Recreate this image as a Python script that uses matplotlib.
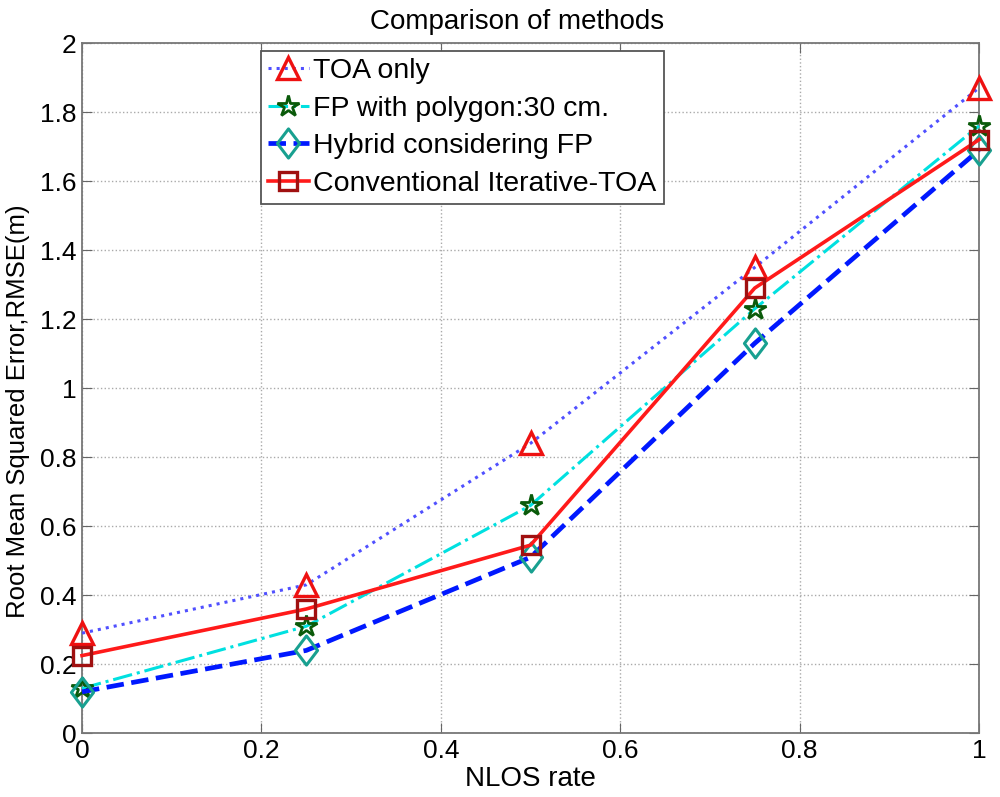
import numpy as np
import matplotlib.pyplot as plt
from matplotlib.path import Path

plt.rcParams['font.family'] = ['Liberation Sans', 'DejaVu Sans']

# data
nlos = [0, 0.25, 0.5, 0.75, 1]
toa_only = [0.29, 0.43, 0.84, 1.35, 1.87]
fp_polygon = [0.13, 0.31, 0.66, 1.23, 1.76]
hybrid_fp = [0.12, 0.24, 0.51, 1.13, 1.69]
conv_iter = [0.225, 0.36, 0.545, 1.29, 1.72]

labels = ['TOA only', 'FP with polygon:30 cm.', 'Hybrid considering FP',
          'Conventional Iterative-TOA']

# matlab style diamond (a bit wider than matplotlib 'd')
diamond = Path([(0, 1), (0.76, 0), (0, -1), (-0.76, 0), (0, 1)],
               [Path.MOVETO, Path.LINETO, Path.LINETO, Path.LINETO,
                Path.CLOSEPOLY])

fig = plt.figure(figsize=(10, 7.97), dpi=100)
ax = fig.add_axes([0.082, 0.080, 0.897, 0.866])

ax.plot(nlos, toa_only, linestyle=':', color='#5050ff', lw=2.2,
        marker='^', ms=16.5, mfc='none', mec='#ee1111', mew=2.4,
        label=labels[0], clip_on=False, zorder=3)
ax.plot(nlos, fp_polygon, linestyle='-.', color='#00e0e0', lw=2.2,
        marker='*', ms=16, mfc='none', mec='#0a5a0a', mew=2.0,
        label=labels[1], clip_on=False, zorder=3)
ax.plot(nlos, hybrid_fp, linestyle='--', color='#0018ff', lw=3.4,
        marker=diamond, ms=21, mfc='none', mec='#18a090', mew=2.2,
        label=labels[2], clip_on=False, zorder=3)
ax.plot(nlos, conv_iter, linestyle='-', color='#ff1a1a', lw=2.6,
        marker='s', ms=12.5, mfc='none', mec='#a01010', mew=2.4,
        label=labels[3], clip_on=False, zorder=3)

ax.set_xlim(0, 1)
ax.set_ylim(0, 2)
ax.set_xticks(np.arange(0, 1.01, 0.2))
ax.set_yticks(np.arange(0, 2.01, 0.2))
ax.set_xticklabels(['0', '0.2', '0.4', '0.6', '0.8', '1'])
ax.set_yticklabels(['0', '0.2', '0.4', '0.6', '0.8', '1', '1.2', '1.4',
                    '1.6', '1.8', '2'])
ax.tick_params(direction='in', top=True, right=True, labelsize=19,
               length=7, color='#666666', pad=4)
for s in ax.spines.values():
    s.set_color('#777777')
    s.set_linewidth(1.3)
ax.grid(True, linestyle=':', color='#aaaaaa', lw=1)

ax.set_xlabel('NLOS rate', fontsize=20, labelpad=2)
ax.set_ylabel('Root Mean Squared Error,RMSE(m)', fontsize=18.5)
ax.yaxis.set_label_coords(-0.058, 0.467)
ax.set_title('Comparison of methods', fontsize=20, pad=10, x=0.485)

leg = ax.legend(loc='upper left', bbox_to_anchor=(0.199, 0.988), fontsize=20.5,
                frameon=True, fancybox=False, framealpha=1, borderpad=0.25,
                handlelength=1.45, handletextpad=0.15, labelspacing=0.4,
                borderaxespad=0)
leg.get_frame().set_edgecolor('#555555')
leg.get_frame().set_linewidth(1.3)

fig.savefig('out.png', dpi=100)
